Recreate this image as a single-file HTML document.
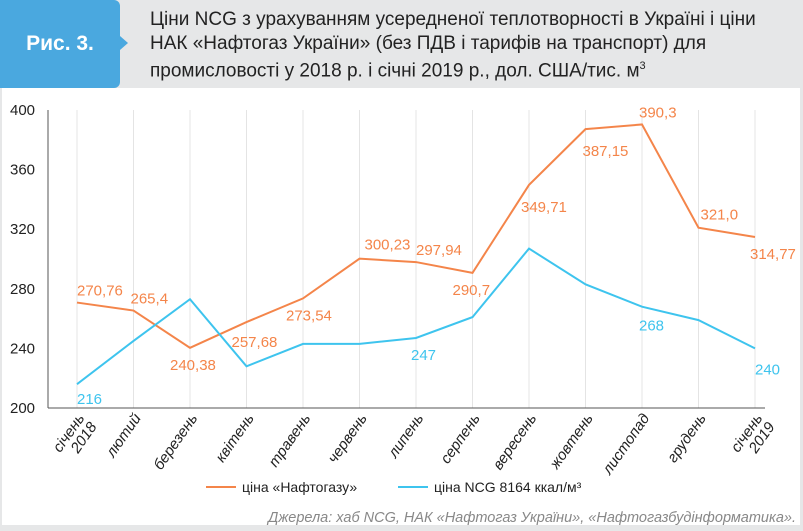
<!DOCTYPE html>
<html><head><meta charset="utf-8"><style>
body{margin:0;width:803px;height:531px;background:#e6e7e8;font-family:"Liberation Sans",sans-serif;overflow:hidden;position:relative}
#hdr{position:absolute;left:0;top:0;width:120px;height:88px;background:#4aa8df;border-radius:0 6px 6px 0}
#arrow{position:absolute;left:120px;top:36px;width:0;height:0;border-top:7px solid transparent;border-bottom:7px solid transparent;border-left:8px solid #4aa8df}
#fig{position:absolute;left:0;top:32px;width:120px;text-align:center;color:#fff;font-weight:bold;font-size:21px}
#title{position:absolute;left:150px;top:8px;font-size:19px;line-height:23.5px;color:#222}
#panel{position:absolute;left:2px;top:88px;width:798px;height:437px;background:#fff}
svg{position:absolute;left:0;top:0}
</style></head><body>
<div id="hdr"></div>
<div id="arrow"></div>
<div id="fig">Рис. 3.</div>
<div id="title">Ціни NCG з урахуванням усередненої теплотворності в Україні і ціни<br>НАК «Нафтогаз України» (без ПДВ і тарифів на транспорт) для<br>промисловості у 2018 р. і січні 2019 р., дол. США/тис. м<sup style="font-size:11px">3</sup></div>
<div id="panel"></div>
<svg id="chart" width="803" height="531"></svg>
<script>
const categories=[["січень","2018"],["лютий"],["березень"],["квітень"],["травень"],["червень"],["липень"],["серпень"],["вересень"],["жовтень"],["листопад"],["грудень"],["січень","2019"]];
const naftogaz=[270.76,265.4,240.38,257.68,273.54,300.23,297.94,290.7,349.71,387.15,390.3,321.0,314.77];
const naftogazLabels=["270,76","265,4","240,38","257,68","273,54","300,23","297,94","290,7","349,71","387,15","390,3","321,0","314,77"];
const ncg=[216,245,273,228,243,243,247,261,307,283,268,259,240];
const ncgLabels=["216","","","","","","247","","","","268","","240"];
const yTicks=[200,240,280,320,360,400];
const NS="http://www.w3.org/2000/svg",svg=document.getElementById('chart');
const x=i=>77+i*56.5, y=v=>408-(v-200)*1.49;
function mk(t,a,p){const e=document.createElementNS(NS,t);for(const k in a)e.setAttribute(k,a[k]);(p||svg).appendChild(e);return e;}
categories.forEach((c,i)=>{const g=mk('line',{x1:x(i),x2:x(i),y1:110,y2:408,stroke:'#e4e4e4'});

const t=mk('text',{transform:`translate(${x(i)+8},${418}) rotate(-55)`,'text-anchor':'end','font-size':'15','font-style':'italic',fill:'#222'});

c.forEach((s,j)=>{const ts=mk('tspan',{x:0,dy:j?15:0},t);ts.textContent=s;});});
yTicks.forEach(v=>{const t=mk('text',{x:10,y:y(v)+5,'font-size':'15',fill:'#222'});t.textContent=v;
});
let a=mk('line',{x1:48,x2:48,y1:110,y2:408,stroke:'#555'});
a=mk('line',{x1:48,x2:765,y1:408,y2:408,stroke:'#555'});
function series(d,col,name){const p=mk('polyline',{points:d.map((v,i)=>x(i)+','+y(v)).join(' '),fill:'none',stroke:col,'stroke-width':2});
}
series(naftogaz,'#f4854a','naftogaz-line');series(ncg,'#3ec4ee','ncg-line');
const oOff=[[0,-7],[-3,-7],[-20,22],[-15,25],[-17,22],[5,-9],[0,-7],[-20,22],[-8,27],[-3,27],[-3,-7],[2,-8],[-5,22]];
naftogaz.forEach((v,i)=>{const t=mk('text',{x:x(i)+oOff[i][0],y:y(v)+oOff[i][1],'font-size':'15',fill:'#f4854a'});t.textContent=naftogazLabels[i];
});
const bOff=[[0,20],0,0,0,0,0,[-5,22],0,0,0,[-3,24],0,[0,26]];
ncg.forEach((v,i)=>{if(!ncgLabels[i])return;const t=mk('text',{x:x(i)+bOff[i][0],y:y(v)+bOff[i][1],'font-size':'15',fill:'#3ec4ee'});t.textContent=ncgLabels[i];
});
let l=mk('line',{x1:206,x2:236,y1:487,y2:487,stroke:'#f4854a','stroke-width':2});
let t=mk('text',{x:242,y:492,'font-size':'14',fill:'#222'});t.textContent='ціна «Нафтогазу»';
l=mk('line',{x1:398,x2:428,y1:487,y2:487,stroke:'#3ec4ee','stroke-width':2});
t=mk('text',{x:434,y:492,'font-size':'14',fill:'#222'});t.textContent='ціна NCG 8164 ккал/м³';
t=mk('text',{x:796,y:522,'font-size':'14.5','font-style':'italic',fill:'#888','text-anchor':'end'});t.textContent='Джерела: хаб NCG, НАК «Нафтогаз України», «Нафтогазбудінформатика».';
</script>
</body></html>
